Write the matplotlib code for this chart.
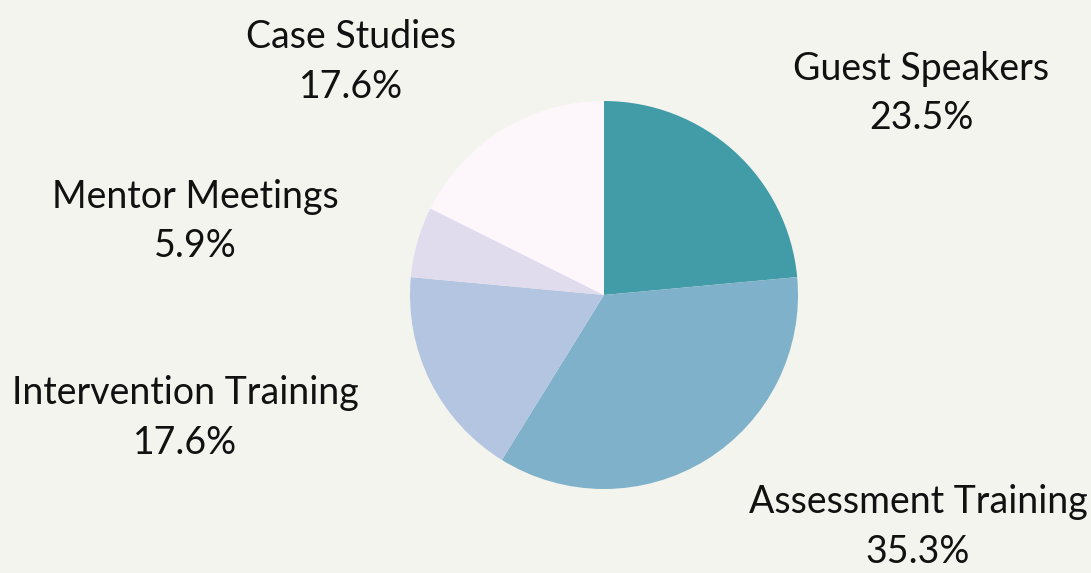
import matplotlib.pyplot as plt

# data
labels = ["Guest Speakers", "Assessment Training", "Intervention Training",
          "Mentor Meetings", "Case Studies"]
counts = [4, 6, 3, 1, 3]
colors = ["#429ca7", "#7fb1ca", "#b3c5e0", "#e0dcee", "#fdf6fb"]

# label anchors, in pie radius units (layout only)
label_pos = [(1.634, 1.041), (1.619, -1.196), (-2.160, -0.634),
             (-2.108, 0.381), (-1.304, 1.201)]

bg = "#f4f4ef"
fig = plt.figure(figsize=(10.91, 5.73), dpi=100, facecolor=bg)
ax = fig.add_axes([0, 0, 1, 1])
ax.set_facecolor(bg)

wedges, _ = ax.pie(counts, colors=colors, startangle=90, counterclock=False,
                   radius=1, wedgeprops=dict(linewidth=0))

total = sum(counts)
for lab, c, (x, y) in zip(labels, counts, label_pos):
    pct = 100 * c / total
    ax.text(x, y, f"{lab}\n{pct:.1f}%", ha="center", va="center",
            fontsize=27, family="Lato", linespacing=1.45, color="#111111")

# pie centre at (604, 295) px, radius 194 px
ax.set_xlim(-604 / 194, (1091 - 604) / 194)
ax.set_ylim(-(573 - 295) / 194, 295 / 194)
ax.set_aspect("auto")
ax.axis("off")

fig.savefig("out.png", dpi=100, facecolor=bg)
